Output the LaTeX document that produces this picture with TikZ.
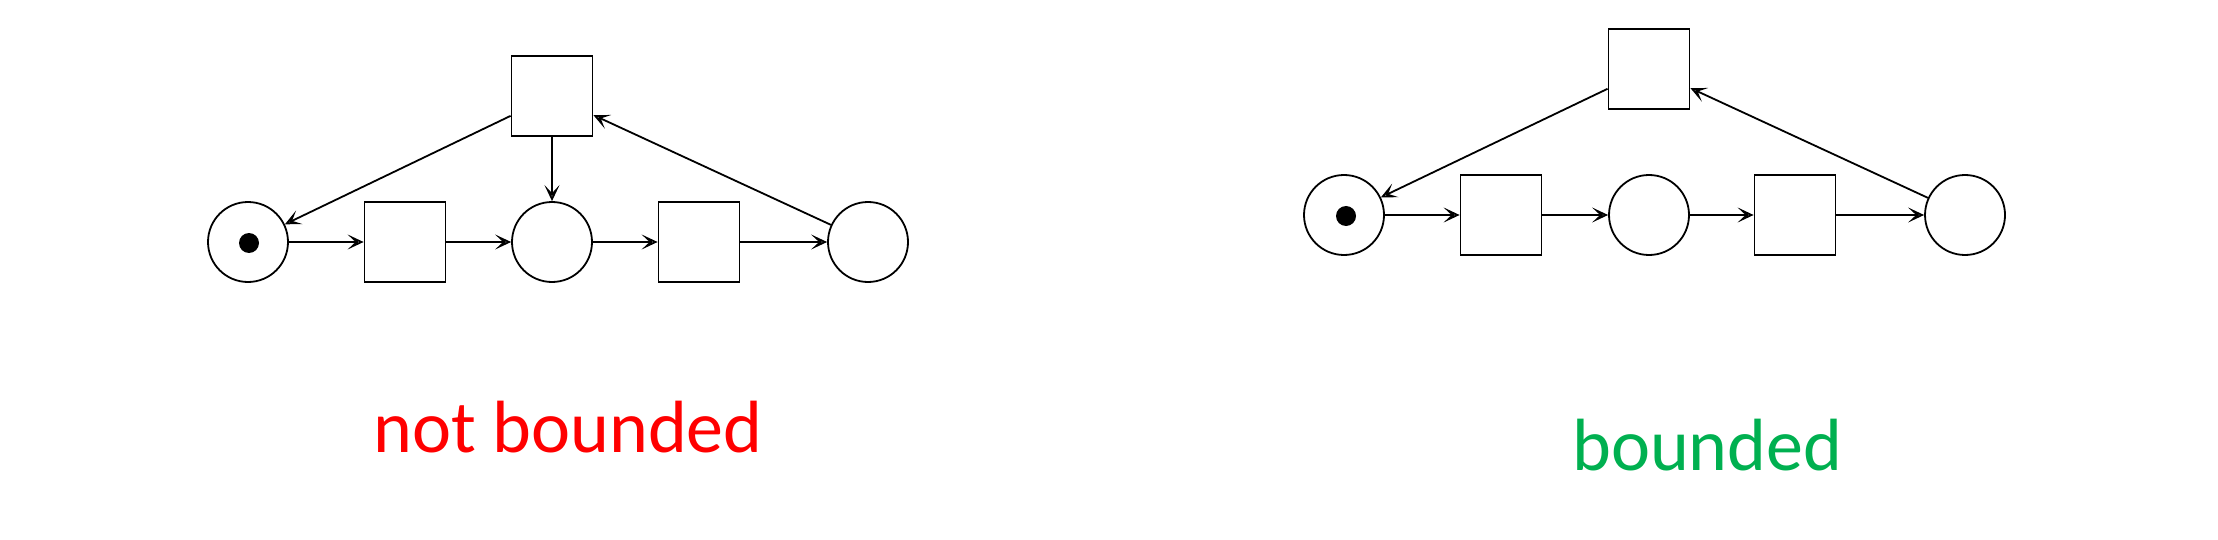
\documentclass[tikz,border=0pt]{standalone}
\usepackage{fontspec}
\setmainfont{Carlito}
\usetikzlibrary{arrows.meta}
\definecolor{nbred}{HTML}{FF0000}
\definecolor{bgreen}{HTML}{00B050}
\tikzset{
  place/.style={circle,draw,line width=1.8pt,minimum size=80pt,inner sep=0pt},
  trans/.style={rectangle,draw,line width=1.8pt,minimum width=81pt,minimum height=80pt,inner sep=0pt},
  token/.style={circle,fill=black,minimum size=20pt,inner sep=0pt},
  arc/.style={line width=1.8pt,-{Stealth[open,length=16pt,width=15pt,inset=8pt]}},
  lbl/.style={inner sep=0pt,anchor=base west,font=\fontsize{74}{80}\selectfont}
}
\begin{document}
\begin{tikzpicture}[x=1pt,y=-1pt]
\useasboundingbox (0,0) rectangle (2218,540);
% left net
\node[place] (lp1) at (248,242) {};
\node[token] (lk1) at (249,243) {};
\node[trans] (lt1) at (405,242) {};
\node[place] (lp2) at (552,242) {};
\node[trans] (lt2) at (699,242) {};
\node[place] (lp3) at (868,242) {};
\node[trans] (lt3) at (552,96) {};
\draw[arc] (lp1) -- (lt1);
\draw[arc] (lt1) -- (lp2);
\draw[arc] (lp2) -- (lt2);
\draw[arc] (lt2) -- (lp3);
\draw[arc] (lt3) -- (lp2);
\draw[arc] (lt3) -- (lp1);
\draw[arc] (lp3) -- (lt3);
\node[lbl,text=nbred] (l1) at (373,452) {not bounded};
% right net
\node[place] (rp1) at (1344,215) {};
\node[token] (rk1) at (1346,216) {};
\node[trans] (rt1) at (1501,215) {};
\node[place] (rp2) at (1649,215) {};
\node[trans] (rt2) at (1795,215) {};
\node[place] (rp3) at (1965,215) {};
\node[trans] (rt3) at (1649,69) {};
\draw[arc] (rp1) -- (rt1);
\draw[arc] (rt1) -- (rp2);
\draw[arc] (rp2) -- (rt2);
\draw[arc] (rt2) -- (rp3);
\draw[arc] (rt3) -- (rp1);
\draw[arc] (rp3) -- (rt3);
\node[lbl,text=bgreen] (l2) at (1572,470) {bounded};
\end{tikzpicture}
\end{document}
